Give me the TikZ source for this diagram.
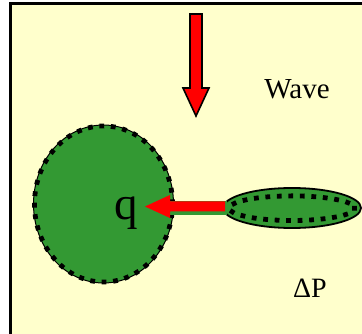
\documentclass[tikz,border=0pt]{standalone}
\usetikzlibrary{decorations.markings}
\usepackage{fontspec}
\setmainfont{Liberation Serif}
\definecolor{bgyellow}{HTML}{FFFFCC}
\definecolor{leafgreen}{HTML}{339933}
\definecolor{arrowred}{HTML}{FF0000}
\tikzset{
  lbl/.style={inner sep=0pt, anchor=base, text=black},
  dotrim/.style={postaction={decorate, decoration={markings,
      mark=between positions 0 and 1 step #1 with {\fill[black] (-2.4pt,-2.4pt) rectangle (2.4pt,2.4pt);}}}},
}
\begin{document}
\begin{tikzpicture}[x=1pt,y=-1pt]
\useasboundingbox (0,0) rectangle (362,334);
\clip (0,0) rectangle (362,334);
\fill[white] (0,0) rectangle (362,334);
\draw[fill=bgyellow, line width=3pt] (10.5,3.5) rectangle (372,344);
% big circle
\fill[leafgreen] (103.5,204) ellipse [x radius=70, y radius=79];
\draw[black, line width=1pt] (103.5,204) ellipse [x radius=70, y radius=79];
\path[dotrim=11.5pt] (103.5,204) ellipse [x radius=69, y radius=78];
% small ellipse
\draw[fill=leafgreen, draw=black, line width=1.8pt] (292,208) ellipse [x radius=69, y radius=20];
\path[dotrim=11.5pt] (292,208.2) ellipse [x radius=62.5, y radius=12.3];
% connecting green bar
\fill[leafgreen] (168,201) rectangle (227,215);
% red arrow left
\fill[arrowred] (225,201.5) -- (170,201.5) -- (170,195) -- (145,206.5) -- (170,218) -- (170,211.5) -- (225,211.5) -- cycle;
% down arrow
\draw[fill=arrowred, line width=1.6pt, line join=miter] (190,14) -- (202,14) -- (202,88) -- (209,88) -- (196,116) -- (183,88) -- (190,88) -- cycle;
% labels
\node[lbl, font=\fontsize{29}{31}\selectfont] (wave) at (297,99) {Wave};
\node[lbl, font=\fontsize{47}{50}\selectfont] (q) at (126,220) {q};
\node[lbl, font=\fontsize{28}{30}\selectfont] (dp) at (310,298) {ΔP};
\end{tikzpicture}
\end{document}
